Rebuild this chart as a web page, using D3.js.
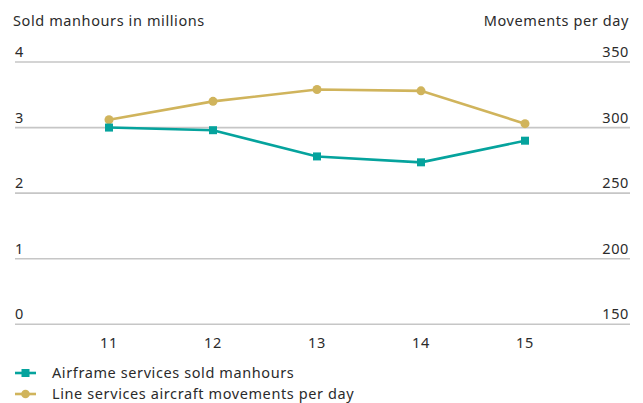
<!DOCTYPE html>
<html>
<head>
<meta charset="utf-8">
<script src="https://cdn.jsdelivr.net/npm/d3@7"></script>
<style>
  html, body { margin: 0; padding: 0; background: #fff; }
  svg { display: block; font-family: "Noto Sans", "Open Sans", sans-serif; }
  svg text { letter-spacing: 0.6px; }
</style>
</head>
<body>
<svg id="chart" width="643" height="403"></svg>
<script>
// Years on the x axis
const years = ["11", "12", "13", "14", "15"];
// Airframe services sold manhours (millions), left axis
const manhours = [3.0, 2.96, 2.56, 2.47, 2.8];
// Line services aircraft movements per day, right axis
const movements = [306, 320, 329, 328, 303];
// Axis ticks
const leftTicks = [0, 1, 2, 3, 4];
const rightTicks = [150, 200, 250, 300, 350];

const teal = "#05a39d";
const gold = "#d0b45c";
const textColor = "#2b2b2b";
const fontSize = 14.5;

const svg = d3.select("#chart");
const plotLeft = 15, plotRight = 630, plotTop = 62, plotBottom = 324.3;

const x = d3.scalePoint().domain(years).range([5, 629]).padding(1);
const yL = d3.scaleLinear().domain([0, 4]).range([plotBottom, plotTop]);
const yR = d3.scaleLinear().domain([150, 350]).range([plotBottom, plotTop]);

// Horizontal gridlines
svg.append("g").selectAll("line").data(leftTicks).join("line")
  .attr("x1", plotLeft).attr("x2", plotRight)
  .attr("y1", d => yL(d)).attr("y2", d => yL(d))
  .attr("stroke", "#c6c6c6").attr("stroke-width", 1.6);

// Left tick labels
svg.append("g").selectAll("text").data(leftTicks).join("text")
  .attr("x", plotLeft).attr("y", d => yL(d) - 5)
  .attr("font-size", fontSize).attr("fill", textColor)
  .text(d => d);

// Right tick labels
svg.append("g").selectAll("text").data(rightTicks).join("text")
  .attr("x", plotRight - 1).attr("y", d => yR(d) - 5)
  .attr("text-anchor", "end")
  .attr("font-size", fontSize).attr("fill", textColor)
  .text(d => d);

// Axis titles
svg.append("text").attr("x", 13).attr("y", 26)
  .attr("font-size", fontSize).attr("fill", textColor)
  .text("Sold manhours in millions");
svg.append("text").attr("x", plotRight - 1).attr("y", 26)
  .attr("text-anchor", "end")
  .attr("font-size", fontSize).attr("fill", textColor)
  .text("Movements per day");

// Year labels
svg.append("g").selectAll("text").data(years).join("text")
  .attr("x", d => x(d)).attr("y", 348)
  .attr("text-anchor", "middle")
  .attr("font-size", fontSize).attr("fill", textColor)
  .text(d => d);

// Movements line (gold, circles)
const goldLine = d3.line().x((d, i) => x(years[i])).y(d => yR(d));
svg.append("path").datum(movements)
  .attr("d", goldLine).attr("fill", "none")
  .attr("stroke", gold).attr("stroke-width", 2.6);
svg.append("g").selectAll("circle").data(movements).join("circle")
  .attr("cx", (d, i) => x(years[i])).attr("cy", d => yR(d))
  .attr("r", 4.5).attr("fill", gold);

// Manhours line (teal, squares)
const tealLine = d3.line().x((d, i) => x(years[i])).y(d => yL(d));
svg.append("path").datum(manhours)
  .attr("d", tealLine).attr("fill", "none")
  .attr("stroke", teal).attr("stroke-width", 2.6);
svg.append("g").selectAll("rect").data(manhours).join("rect")
  .attr("x", (d, i) => x(years[i]) - 4).attr("y", d => yL(d) - 4)
  .attr("width", 8).attr("height", 8).attr("fill", teal);

// Legend
const legend = [
  { label: "Airframe services sold manhours", color: teal, shape: "square" },
  { label: "Line services aircraft movements per day", color: gold, shape: "circle" }
];
const lg = svg.append("g").selectAll("g").data(legend).join("g")
  .attr("transform", (d, i) => `translate(0, ${373 + i * 21})`);
lg.append("line").attr("x1", 15).attr("x2", 36)
  .attr("stroke", d => d.color).attr("stroke-width", 2.6);
lg.filter(d => d.shape === "square").append("rect")
  .attr("x", 21.5).attr("y", -4).attr("width", 8).attr("height", 8)
  .attr("fill", d => d.color);
lg.filter(d => d.shape === "circle").append("circle")
  .attr("cx", 25.5).attr("r", 4.3).attr("fill", d => d.color);
lg.append("text").attr("x", 52).attr("y", 5.3)
  .attr("font-size", fontSize).attr("fill", textColor)
  .text(d => d.label);
</script>
</body>
</html>
